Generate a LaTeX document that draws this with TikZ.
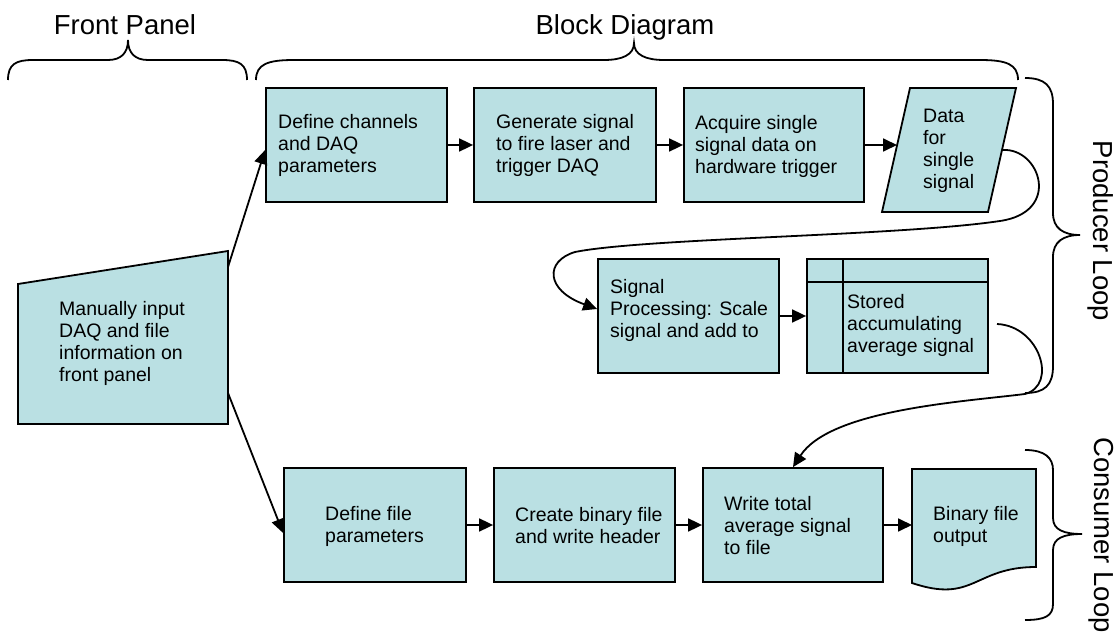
\documentclass[tikz,border=0pt]{standalone}
\usepackage{fontspec}
\setmainfont{Liberation Sans}
\usetikzlibrary{arrows.meta}
\definecolor{boxfill}{RGB}{186,224,227}
\begin{document}
\begin{tikzpicture}[x=1pt,y=-1pt,
  box/.style={draw=black, fill=boxfill, line width=1.8pt, inner sep=0pt, minimum height=114pt},
  shp/.style={draw=black, fill=boxfill, line width=1.8pt},
  lbl/.style={anchor=west, align=left, inner sep=0pt, font=\fontsize{19.5}{22}\selectfont},
  ttl/.style={inner sep=0pt, font=\fontsize{27.5}{33}\selectfont},
  conn/.style={line width=1.8pt, -{Triangle[length=14pt,width=13pt]}},
  brace/.style={line width=1.8pt}]
\useasboundingbox (0,0) rectangle (1120,639);

% titles
\node[ttl, anchor=base] (fp) at (125,35) {Front Panel};
\node[ttl, anchor=base] (bd) at (625,35) {Block Diagram};
\node[ttl, rotate=-90] (pl) at (1101,231) {Producer Loop};
\node[ttl, rotate=-90, anchor=west] (cl) at (1101,437) {Consumer Loop};

% braces
\draw[brace] (8,80) .. controls (8,64) and (16,60) .. (33,60) -- (108,60)
  .. controls (121,60) and (128,53) .. (128,40)
  .. controls (128,53) and (135,60) .. (148,60) -- (222,60)
  .. controls (239,60) and (247,64) .. (247,80);
\draw[brace] (256,80) .. controls (256,64) and (268,60) .. (294,60) -- (604,60)
  .. controls (622,60) and (634,55) .. (634,43)
  .. controls (634,55) and (646,60) .. (664,60) -- (980,60)
  .. controls (1006,60) and (1018,64) .. (1018,80);
\draw[brace] (1025,78) .. controls (1045,78) and (1053,86) .. (1053,104) -- (1053,213)
  .. controls (1053,228) and (1063,235) .. (1080,235)
  .. controls (1063,235) and (1053,242) .. (1053,257) -- (1053,366)
  .. controls (1053,385) and (1045,393) .. (1025,393);
\draw[brace] (1025,450) .. controls (1045,450) and (1053,458) .. (1053,470) -- (1053,518)
  .. controls (1053,530) and (1064,534) .. (1082,534)
  .. controls (1064,534) and (1053,538) .. (1053,550) -- (1053,604)
  .. controls (1053,616) and (1045,620) .. (1025,620);

% manual input
\draw[shp] (18,284) -- (228,251) -- (228,424) -- (18,424) -- cycle;
\node[lbl] (tman) at (59,343) {Manually input\\DAQ and file\\information on\\front panel};
\coordinate (m1) at (228,267);
\coordinate (m2) at (228,393);

% top row
\node[box, minimum width=181pt] (dch) at (356.5,145) {};
\node[lbl] (tdch) at (278,145) {Define channels\\and DAQ\\parameters};
\node[box, minimum width=182pt] (gen) at (565,145) {};
\node[lbl] (tgen) at (496,145) {Generate signal\\to fire laser and\\trigger DAQ};
\node[box, minimum width=180pt] (acq) at (774,145) {};
\node[lbl] (tacq) at (695,146.5) {Acquire single\\signal data on\\hardware trigger};
\draw[shp] (910,88) -- (1016,88) -- (988,212) -- (882,212) -- cycle;
\node[lbl] (tdata) at (923,151) {Data\\for\\single\\signal};
\coordinate (din) at (897,145);
\coordinate (dout) at (1003,150);

% middle row
\node[box, minimum width=181pt] (sp) at (688.5,316) {};
\node[lbl] (tsp) at (610,310) {Signal\\Processing: Scale\\signal and add to};
\node[box, minimum width=181pt] (st) at (897.5,316) {};
\draw[line width=1.8pt] (843,259) -- (843,373);
\draw[line width=1.8pt] (807,282) -- (988,282);
\node[lbl] (tst) at (847,325.5) {Stored\\accumulating\\average signal};
\coordinate (sout) at (997,324);

% bottom row
\node[box, minimum width=182pt] (dfile) at (375,525) {};
\node[lbl] (tdfile) at (325,526) {Define file\\parameters};
\node[box, minimum width=181pt] (create) at (584.5,525) {};
\node[lbl] (tcreate) at (515,526) {Create binary file\\and write header};
\node[box, minimum width=180pt] (write) at (793,525) {};
\node[lbl] (twrite) at (724,526) {Write total\\average signal\\to file};
\draw[shp] (912,469) -- (1036,469) -- (1036,567) .. controls (974,567) and (974,604) .. (912,583) -- cycle;
\node[lbl] (tbin) at (933,526) {Binary file\\output};
\coordinate (bin) at (912,525);

% connectors
\draw[conn] (m1) -- ([yshift=-5pt]dch.west);
\draw[conn] (m2) -- ([yshift=-8pt]dfile.west);
\draw[conn] (dch.east) -- (gen.west);
\draw[conn] (gen.east) -- (acq.west);
\draw[conn] (acq.east) -- (din);
\draw[conn] (dout) .. controls (1040,148) and (1062,212) .. (1000,221)
  .. controls (900,236) and (645,238) .. (575,252)
  .. controls (545,261) and (545,290) .. ([yshift=7pt]sp.west);
\draw[conn] (sp.east) -- (st.west);
\draw[conn] (sout) .. controls (1040,326) and (1058,385) .. (1025,394)
  .. controls (960,402) and (830,410) .. (write.north);
\draw[conn] (dfile.east) -- (create.west);
\draw[conn] (create.east) -- (write.west);
\draw[conn] (write.east) -- (bin);
\end{tikzpicture}
\end{document}
